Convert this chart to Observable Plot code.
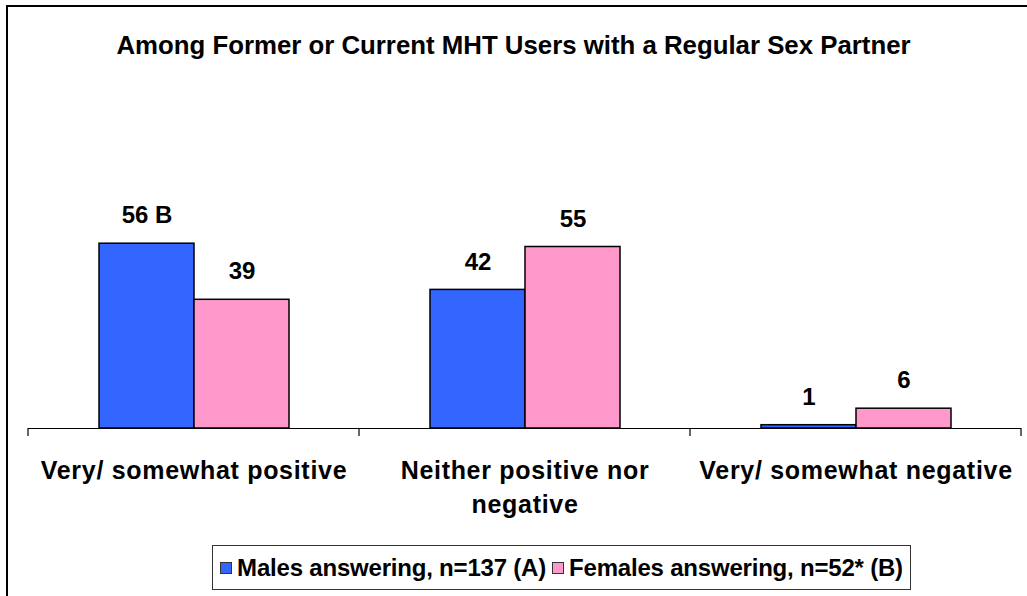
<!DOCTYPE html>
<html><head><meta charset="utf-8">
<script src="https://cdn.jsdelivr.net/npm/d3@7"></script>
<script src="https://cdn.jsdelivr.net/npm/@observablehq/plot@0.6"></script>
<style>
body{margin:0;background:#fff;font-family:"Liberation Sans",Arial,sans-serif;}
#wrap{position:relative;width:1027px;height:596px;overflow:hidden;background:#fff;}
#frame{position:absolute;left:6px;top:5px;width:1100px;height:700px;border-left:2px solid #000;border-top:2px solid #000;}
#title{position:absolute;left:0;top:30px;width:1027px;text-align:center;font-weight:bold;font-size:25.8px;line-height:30px;}
#chart{position:absolute;left:0;top:80px;}
#legend{position:absolute;left:212px;top:545px;width:697px;height:43px;border:1.5px solid #333;display:flex;align-items:center;justify-content:center;font-weight:bold;font-size:24px;letter-spacing:-0.2px;white-space:nowrap;}
.sw{display:inline-block;flex:0 0 auto;width:10px;height:10px;border:1.5px solid #333;margin-right:5px;}
.item{display:flex;align-items:center;margin:0 3px;flex:0 0 auto;}
#chart g[aria-label="fx-axis tick label"]{font-weight:bold;letter-spacing:0.7px;}
</style></head>
<body>
<div id="wrap">
  <div id="frame"></div>
  <div id="title"></div>
  <div id="chart"></div>
  <div id="legend"></div>
</div>
<script>
const chartTitle = "Among Former or Current MHT Users with a Regular Sex Partner";
const categories = ["Very/ somewhat positive", "Neither positive nor negative", "Very/ somewhat negative"];
const categoryLabels = ["Very/ somewhat positive", "Neither positive nor\nnegative", "Very/ somewhat negative"];
const series = ["Males answering, n=137 (A)", "Females answering, n=52* (B)"];
const males = [56, 42, 1];
const females = [39, 55, 6];
const maleLabels = ["56 B", "42", "1"];
const femaleLabels = ["39", "55", "6"];
const colors = ["#3366FF", "#FF99CC"];

const rows = categories.flatMap((c, i) => [
  {category: c, series: series[0], value: males[i], label: maleLabels[i]},
  {category: c, series: series[1], value: females[i], label: femaleLabels[i]}
]);

document.getElementById("title").textContent = chartTitle;

const plot = Plot.plot({
  width: 1027,
  height: 450,
  marginTop: 150,
  marginBottom: 102,
  marginLeft: 27,
  marginRight: 5,
  style: {fontFamily: '"Liberation Sans", Arial, sans-serif', overflow: "visible", background: "transparent"},
  fx: {domain: categories, padding: 0, label: null},
  x: {domain: series, paddingInner: 0, paddingOuter: 0.737, axis: null},
  y: {domain: [0, 60], axis: null},
  color: {domain: series, range: colors},
  marks: [
    Plot.barY(rows, {fx: "category", x: "series", y: "value", fill: "series", stroke: "#000", strokeWidth: 1.5}),
    Plot.text(rows, {fx: "category", x: "series", y: "value", text: "label", dy: -28, lineAnchor: "middle", fontSize: 24, fontWeight: "bold", fill: "#000"}),
    Plot.ruleY([0], {stroke: "#000", strokeWidth: 1.2}),
    Plot.axisFx({anchor: "bottom", tickSize: 0, tickPadding: 26, fontSize: 25, lineHeight: 1.36, label: null,
      tickFormat: c => categoryLabels[categories.indexOf(c)]})
  ]
});

// boundary tick marks between categories, from the fx scale
const fx = plot.scale("fx");
const y = plot.scale("y");
const y0 = y.apply(0);
const edges = categories.map(c => fx.apply(c));
edges.push(fx.apply(categories[categories.length - 1]) + fx.step);
d3.select(plot).append("g").attr("aria-label", "category ticks")
  .selectAll("line").data(edges).join("line")
  .attr("x1", d => d).attr("x2", d => d)
  .attr("y1", y0).attr("y2", y0 + 8)
  .attr("stroke", "#000").attr("stroke-width", 1.2);

document.getElementById("chart").appendChild(plot);

const legend = d3.select("#legend");
series.forEach((s, i) => {
  const it = legend.append("div").attr("class", "item");
  it.append("span").attr("class", "sw").style("background", colors[i]);
  it.append("span").text(s);
});
</script>
</body></html>
